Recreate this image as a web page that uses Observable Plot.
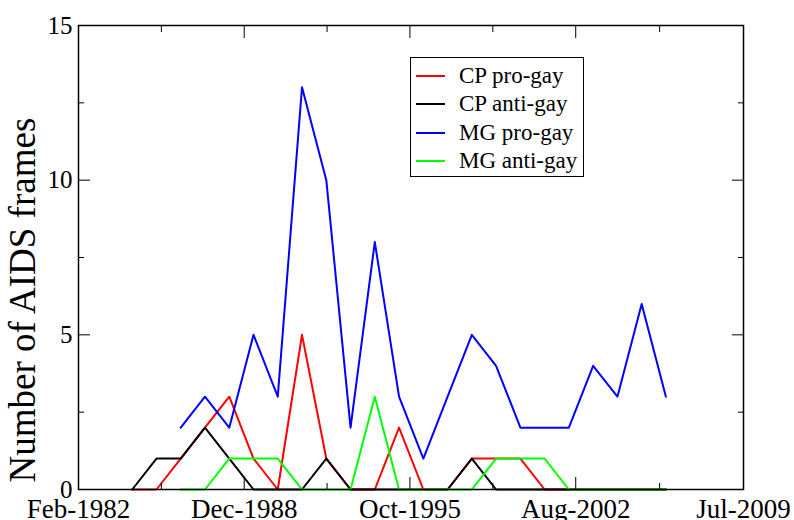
<!DOCTYPE html>
<html><head><meta charset="utf-8">
<script src="https://cdn.jsdelivr.net/npm/d3@7"></script>
<script src="https://cdn.jsdelivr.net/npm/@observablehq/plot@0.6"></script>
<style>
html,body{margin:0;padding:0;background:#fff;}
#wrap{position:relative;width:794px;height:520px;overflow:hidden;}
.legend{position:absolute;left:410px;top:57px;width:172px;height:118px;border:1.5px solid #000;background:#fff;
  font-family:"Liberation Serif","Times New Roman",serif;font-size:23px;color:#000;}
.legend .row{position:absolute;left:5px;height:28px;display:flex;align-items:center;white-space:nowrap;}
.legend .sw{width:29px;height:2px;margin-right:14px;}
</style></head>
<body><div id="wrap"></div>
<script>
// data (one value per year)
const cpYears = [1984,1985,1986,1987,1988,1989,1990,1991,1992,1993,1994,1995,1996,1997,1998,1999,2000,2001,2002,2003,2004,2005,2006];
const cpPro   = [0,0,1,2,3,1,0,5,1,0,0,2,0,0,1,1,1,0,0,0,0,0,0];
const cpAnti  = [0,1,1,2,1,0,0,0,1,0,0,0,0,0,1,0,0,0,0,0,0,0,0];
const mgYears = [1986,1987,1988,1989,1990,1991,1992,1993,1994,1995,1996,1997,1998,1999,2000,2001,2002,2003,2004,2005,2006];
const mgPro   = [2,3,2,5,3,13,10,2,8,3,1,3,5,4,2,2,2,4,3,6,3];
const mgAnti  = [0,0,1,1,1,0,0,0,3,0,0,0,0,1,1,1,0,0,0,0,0];

const seriesNames  = ["CP pro-gay","CP anti-gay","MG pro-gay","MG anti-gay"];
const seriesColors = ["#ff0000","#000000","#0000ff","#00ff00"];
const xTickLabels = ["Feb-1982","Dec-1988","Oct-1995","Aug-2002","Jul-2009"];
const yTicks = [0,5,10,15];
const yMinorTicks = [2.5,7.5,12.5];
const yLabel = "Number of AIDS frames";

const parse = d3.utcParse("%b-%Y");
const xTicks = xTickLabels.map(parse);
const xMinor = xTicks.slice(1).map((d,i)=>new Date((+d + +xTicks[i])/2));
const toDate = y => new Date(Date.UTC(y,3,20));

const mk = (years, vals) => years.map((y,i)=>({date: toDate(y), value: vals[i]}));
const sets = [mk(cpYears,cpPro), mk(cpYears,cpAnti), mk(mgYears,mgPro), mk(mgYears,mgAnti)];

const fmtMap = new Map(xTickLabels.map((l,i)=>[+xTicks[i], l]));
const none = () => "";
const FONT = '"Liberation Serif","Times New Roman",serif';

const chart = Plot.plot({
  width: 794, height: 520,
  marginLeft: 78, marginRight: 51, marginTop: 25, marginBottom: 31,
  style: {fontFamily: FONT, fontSize: "25px", color: "#000", background: "#fff", overflow: "visible"},
  x: {type: "utc", domain: [xTicks[0], xTicks[xTicks.length-1]]},
  y: {domain: [0, 15]},
  marks: [
    ...sets.map((s,i)=>Plot.line(s, {x: "date", y: "value", stroke: seriesColors[i], strokeWidth: 2})),
    Plot.frame({stroke: "#000", strokeWidth: 1.5}),
    Plot.axisX({anchor: "bottom", ticks: xTicks, tickSize: -12, tickPadding: 21, tickFormat: d => fmtMap.get(+d), fontSize: 27, label: null}),
    Plot.axisX({anchor: "bottom", ticks: xMinor, tickSize: -6, tickFormat: none, label: null}),
    Plot.axisX({anchor: "top", ticks: xTicks, tickSize: -12, tickFormat: none, label: null}),
    Plot.axisX({anchor: "top", ticks: xMinor, tickSize: -6, tickFormat: none, label: null}),
    Plot.axisY({anchor: "left", ticks: yTicks, tickSize: -12, tickPadding: 18, fontSize: 25, label: null}),
    Plot.axisY({anchor: "left", ticks: yMinorTicks, tickSize: -6, tickFormat: none, label: null}),
    Plot.axisY({anchor: "right", ticks: yTicks, tickSize: -12, tickFormat: none, label: null}),
    Plot.axisY({anchor: "right", ticks: yMinorTicks, tickSize: -6, tickFormat: none, label: null}),
    Plot.text([yLabel], {frameAnchor: "bottom-left", rotate: -90, textAnchor: "start", lineAnchor: "middle", dx: -55, dy: -7, fontSize: 37})
  ]
});
const wrap = document.getElementById("wrap");
wrap.appendChild(chart);

const leg = document.createElement("div");
leg.className = "legend";
seriesNames.forEach((n,i)=>{
  const r = document.createElement("div");
  r.className = "row";
  r.style.top = (4 + i*28.3) + "px";
  const sw = document.createElement("span"); sw.className = "sw"; sw.style.background = seriesColors[i];
  const t = document.createElement("span"); t.textContent = n;
  r.appendChild(sw); r.appendChild(t);
  leg.appendChild(r);
});
wrap.appendChild(leg);
</script>
</body></html>
